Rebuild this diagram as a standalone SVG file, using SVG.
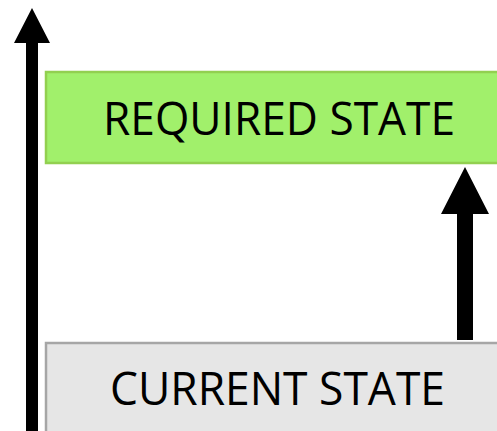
<svg xmlns="http://www.w3.org/2000/svg" width="497" height="431" viewBox="0 0 497 431">
  <style>
    .label { font-family: "Open Sans", "Noto Sans", "Liberation Sans", sans-serif; font-size: 45px; fill: #000; }
    .arrow { fill: #000; }
  </style>
  <rect width="497" height="431" fill="#ffffff"/>

  <g id="required-state">
    <rect x="46" y="72" width="460" height="91" fill="#a1f06b" stroke="#92d050" stroke-width="2.5"/>
    <text class="label" x="103" y="135" textLength="352" lengthAdjust="spacingAndGlyphs">REQUIRED STATE</text>
  </g>

  <g id="current-state">
    <rect x="46" y="343" width="460" height="100" fill="#e6e6e6" stroke="#a6a6a6" stroke-width="2.5"/>
    <text class="label" x="110" y="405" textLength="335" lengthAdjust="spacingAndGlyphs">CURRENT STATE</text>
  </g>

  <g id="connectors">
    <!-- long vertical axis arrow on the left -->
    <polygon class="arrow" points="26,431 26,43 14,43 32,8 50,43 38,43 38,431"/>
    <!-- step arrow from current to required -->
    <polygon class="arrow" points="457,340 457,214 441,214 465,167 489,214 473,214 473,340"/>
  </g>
</svg>
